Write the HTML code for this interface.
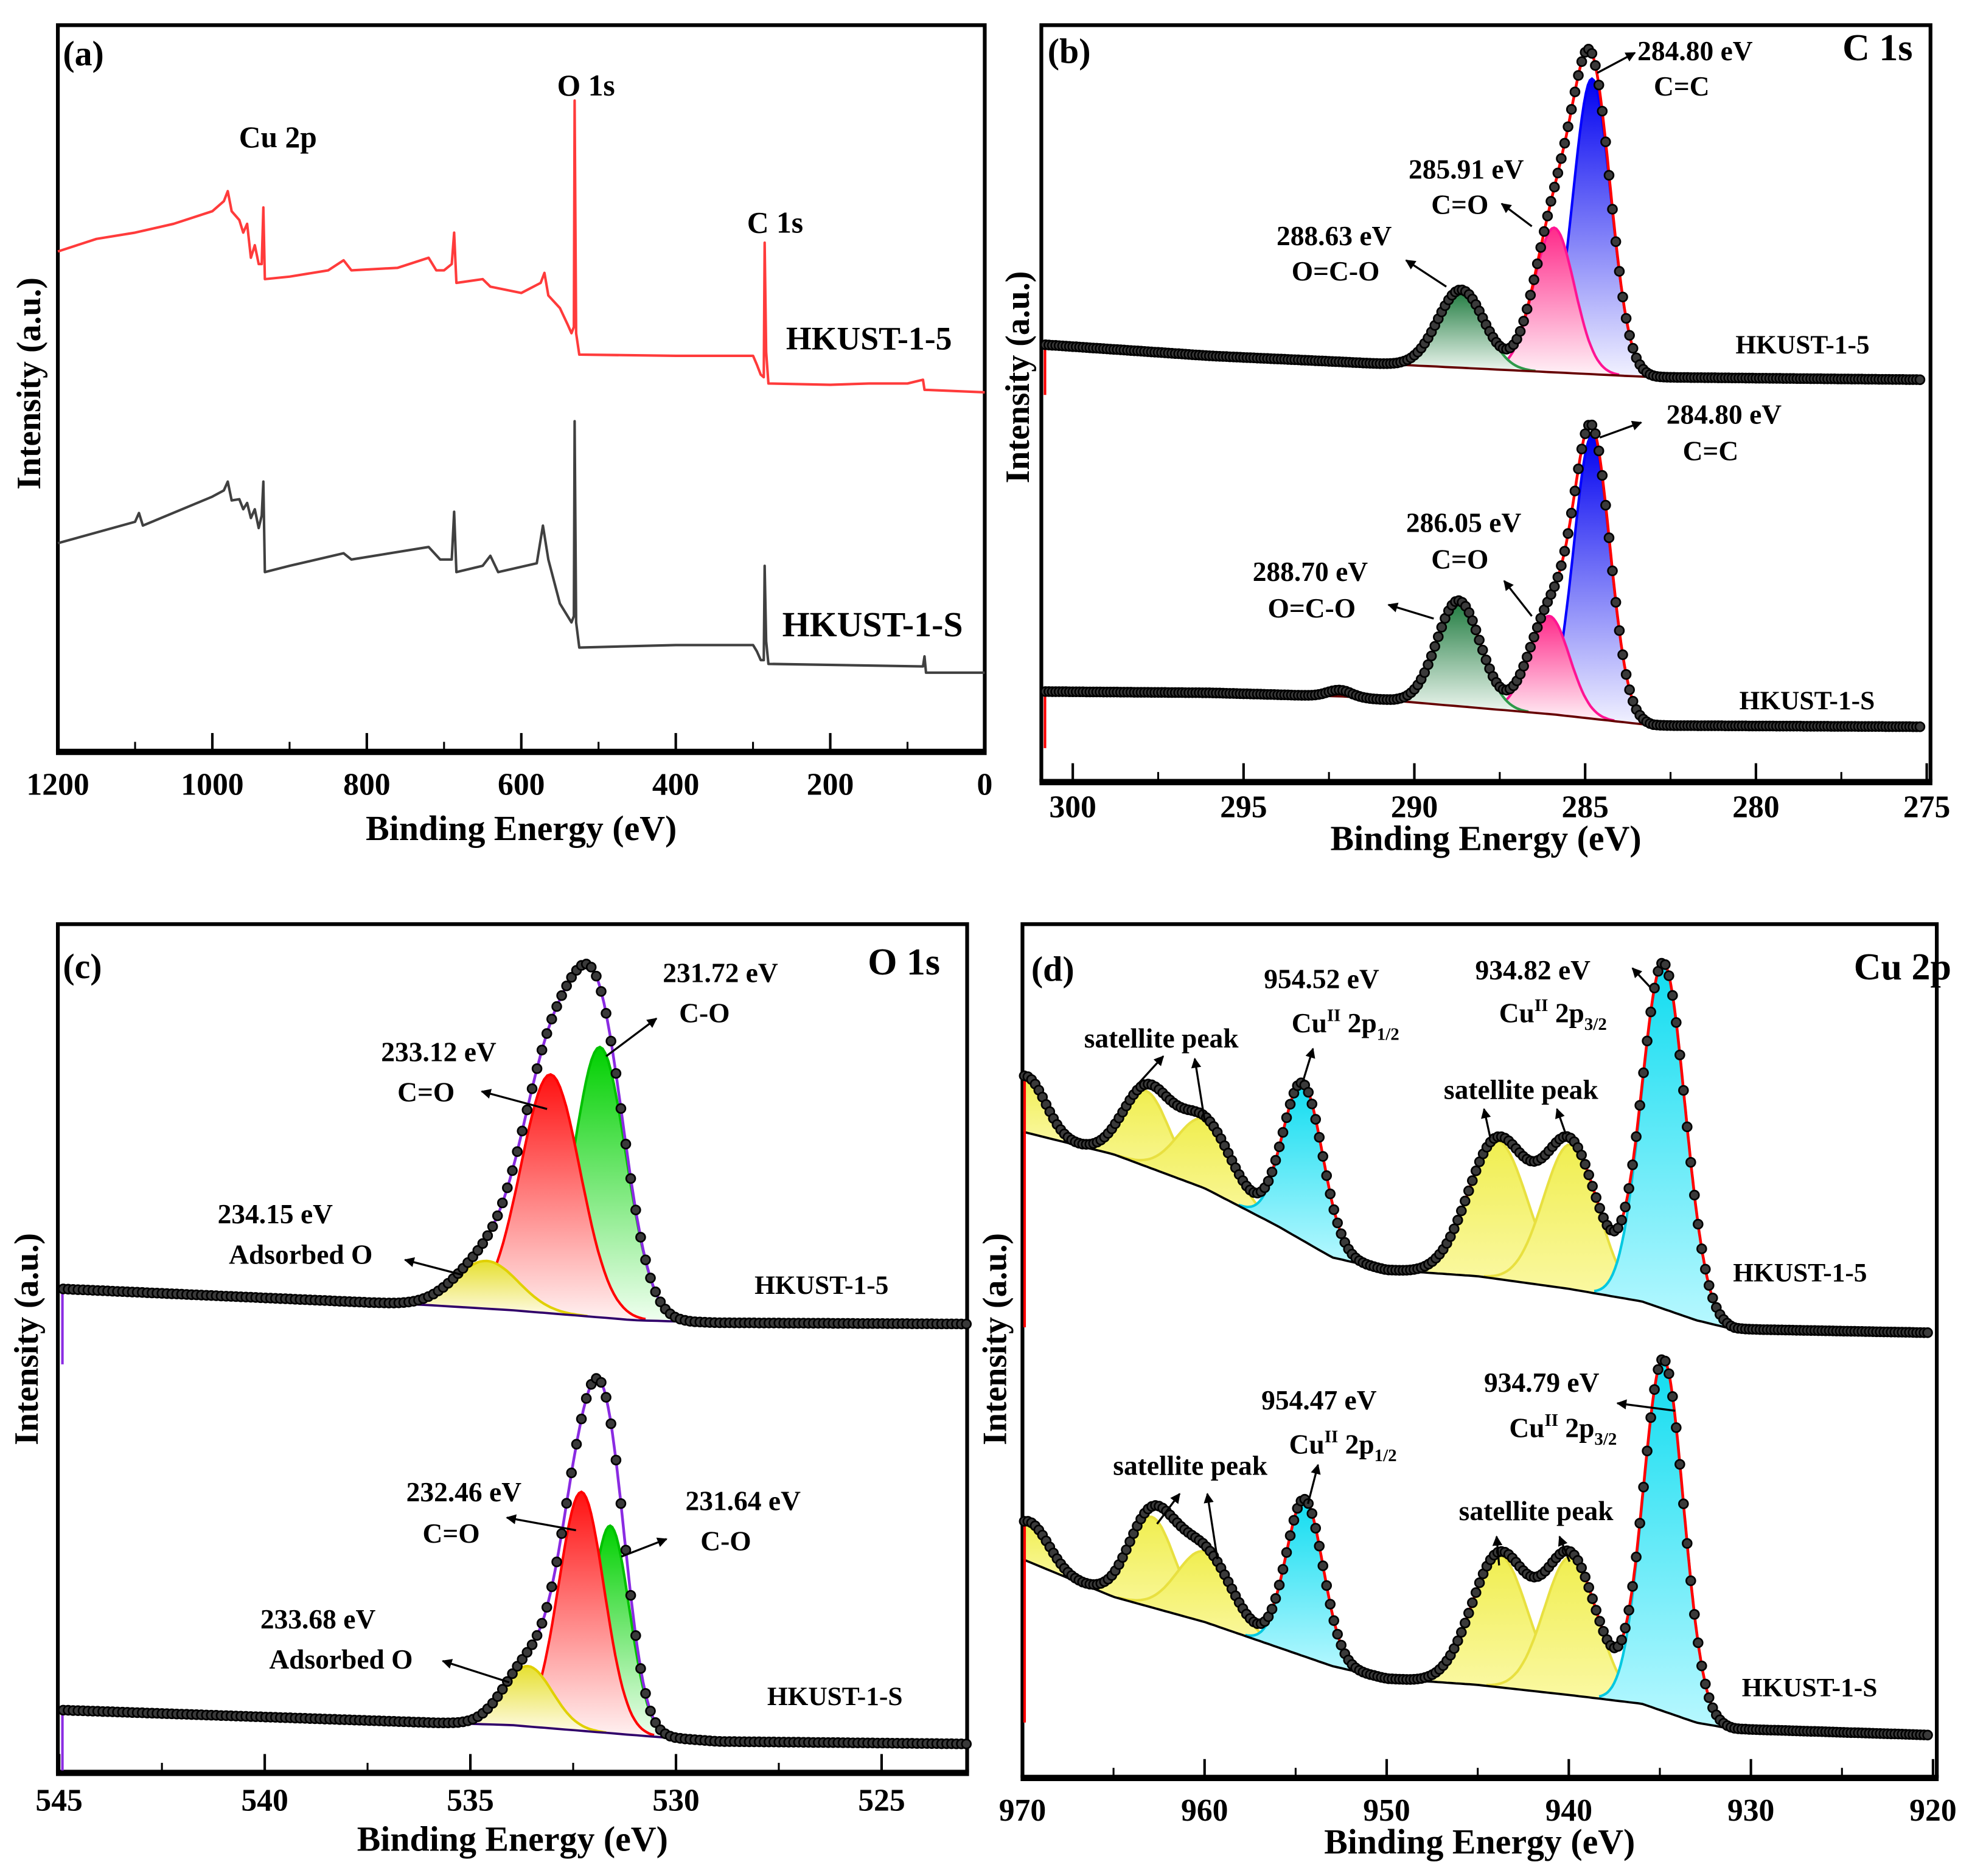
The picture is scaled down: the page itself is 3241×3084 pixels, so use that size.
<!DOCTYPE html>
<html><head><meta charset="utf-8"><style>
html,body{margin:0;padding:0;background:#fff}
svg{display:block}
text{font-family:"Liberation Serif",serif;font-weight:bold;fill:#000}
</style></head><body>
<svg id="fig" xmlns="http://www.w3.org/2000/svg" width="3241" height="3084" viewBox="0 0 1568 1492" preserveAspectRatio="none">
<defs>
<marker id="ah" viewBox="0 0 10 10" refX="9" refY="5" markerWidth="5" markerHeight="5" orient="auto"><path d="M0,0L10,5L0,10z" fill="#000"/></marker>
<linearGradient id="gYel" x1="0" y1="0" x2="0" y2="1"><stop offset="0" stop-color="#e6e030"/><stop offset="1" stop-color="#fffbe8"/></linearGradient>
<linearGradient id="gYelD" x1="0" y1="0" x2="0" y2="1"><stop offset="0" stop-color="#f0ee50"/><stop offset="1" stop-color="#fbf9a8"/></linearGradient>
<linearGradient id="gRed" x1="0" y1="0" x2="0" y2="1"><stop offset="0" stop-color="#ff1010"/><stop offset="1" stop-color="#fff2f2"/></linearGradient>
<linearGradient id="gGrn" x1="0" y1="0" x2="0" y2="1"><stop offset="0" stop-color="#00d000"/><stop offset="1" stop-color="#f0fff0"/></linearGradient>
<linearGradient id="gDGrn" x1="0" y1="0" x2="0" y2="1"><stop offset="0" stop-color="#1e7a3e"/><stop offset="1" stop-color="#eef7f0"/></linearGradient>
<linearGradient id="gPink" x1="0" y1="0" x2="0" y2="1"><stop offset="0" stop-color="#ff2a8a"/><stop offset="1" stop-color="#fff2f7"/></linearGradient>
<linearGradient id="gBlue" x1="0" y1="0" x2="0" y2="1"><stop offset="0" stop-color="#0000f0"/><stop offset="1" stop-color="#f2f2ff"/></linearGradient>
<linearGradient id="gCyan" x1="0" y1="0" x2="0" y2="1"><stop offset="0" stop-color="#10dcf0"/><stop offset="1" stop-color="#b8f8ff"/></linearGradient>
</defs>
<g id="layer"></g>
</svg>
<script>
// ---------- DATA ----------
const surveyE5 = [1200,1150,1100,1050,1000,985,980,975,965,960,955,950,945,940,936,934,932,900,850,830,820,760,720,710,700,690,687,684,650,640,600,575,570,565,550,540,535,532,531,529,525,400,300,295,290,286,285,283,280,200,150,100,80,78,0];
const surveyI5 = [398,408,413,420,430,438,446,430,423,413,420,393,403,388,388,433,376,378,383,391,383,385,393,383,383,388,413,373,376,370,365,373,381,363,353,340,333,338,518,333,316,315,315,308,300,298,405,318,293,292,293,293,296,288,286];
const surveyES = [1200,1100,1095,1090,1000,985,980,975,965,960,955,950,945,940,936,934,932,900,830,820,720,705,690,687,684,650,640,630,580,572,565,550,535,532,531,529,525,400,300,295,290,286,285,283,280,80,78,76,0];
const surveyIS = [166,183,190,180,203,208,215,200,201,193,198,186,193,178,188,215,143,148,158,153,163,153,153,191,143,148,156,143,150,180,153,118,103,108,263,103,83,85,85,80,73,73,148,88,70,68,76,63,63];
const c1sBgE = [300.9,296,292,286,283,275];
const c1sBg5 = [348,339,334,326,322,320];
const c1sBgS = [72,71,68,54,45,44];
const c1sCenters5 = [284.80,285.91,288.63];
const c1sHeights5 = [235,115,62];
const c1sFwhm5 = [1.3,1.4,1.6];
const c1sCentersS = [284.80,286.05,288.70,292.2];
const c1sHeightsS = [225,78,84,5];
const c1sFwhmS = [1.25,1.4,1.5,0.8];
const o1sBgE = [545,536,534,531,529,522.8];
const o1sBg5 = [385,372,368,360,358,357];
const o1sBgS = [50,40,38,30,25,23];
const o1sCenters5 = [531.85,533.05,534.6];
const o1sHeights5 = [215,190,38];
const o1sFwhm5 = [1.5,1.7,1.8];
const o1sCentersS = [531.6,532.3,533.6];
const o1sHeightsS = [165,190,48];
const o1sFwhmS = [1.1,1.3,1.4];
const cuBgE = [970,965,960,956,953,950,945,940,936,933,931,920];
const cuBg5 = [514,496,469,439,414,404,399,389,379,364,357,354];
const cuBgS = [174,144,124,104,89,79,74,66,59,44,39,34];
const cuCenters5 = [969.8,963.2,960.0,954.6,943.9,939.9,934.8];
const cuHeights5 = [45,60,55,125,110,115,275];
const cuFwhm5 = [2.5,3.0,3.5,2.6,3.8,3.5,2.8];
const cuCentersS = [969.6,962.9,960.0,954.5,943.8,939.9,934.8];
const cuHeightsS = [32,72,56,125,105,110,280];
const cuFwhmS = [2.5,3.0,3.5,2.4,3.6,3.4,2.6];
const cuKinds = ['sat','sat','sat','main','sat','sat','main'];

// ---------- HELPERS ----------
const NS='http://www.w3.org/2000/svg';
const layer=document.getElementById('layer');
function mk(tag,parent){const e=document.createElementNS(NS,tag);(parent||layer).appendChild(e);return e;}
function interp(xs,ys,x){
  if(x>=xs[0])return ys[0];
  for(let i=1;i<xs.length;i++){if(x>=xs[i]){const t=(x-xs[i-1])/(xs[i]-xs[i-1]);return ys[i-1]+t*(ys[i]-ys[i-1]);}}
  return ys[ys.length-1];
}
function gauss(E,c,h,f){const s=f/2.3548;return h*Math.exp(-(E-c)*(E-c)/(2*s*s));}
function fmt(n){return n.toFixed(1);}

function frame(p){
  const g=mk('g');
  
  
  const r=mk('path',g);
  r.setAttribute('d',`M${p.x0},${p.y1}V${p.y0}H${p.x1}V${p.y1}`);
  r.setAttribute('fill','none');r.setAttribute('stroke','#000');r.setAttribute('stroke-width','3');
  
  
  const b=mk('line',g);
  b.setAttribute('x1',p.x0-1.5);b.setAttribute('x2',p.x1+1.5);b.setAttribute('y1',p.y1);b.setAttribute('y2',p.y1);
  b.setAttribute('stroke','#000');b.setAttribute('stroke-width','5');
  
  
  p.ticks.forEach((t,i)=>{
    const x=p.sx(t);
    const l=mk('line',g);
    l.setAttribute('x1',x);l.setAttribute('x2',x);l.setAttribute('y1',p.y1);l.setAttribute('y2',p.y1-15);
    l.setAttribute('stroke','#000');l.setAttribute('stroke-width','2');
    
    
    const tx=mk('text',g);
    tx.setAttribute('x',x);tx.setAttribute('y',p.y1+p.tickDy);tx.setAttribute('text-anchor','middle');tx.setAttribute('font-size','25');
    tx.textContent=p.tickLabels[i];
    
    
  });
  p.minor.forEach(t=>{
    const x=p.sx(t);
    const l=mk('line',g);
    l.setAttribute('x1',x);l.setAttribute('x2',x);l.setAttribute('y1',p.y1);l.setAttribute('y2',p.y1-8);
    l.setAttribute('stroke','#000');l.setAttribute('stroke-width','1.5');
    
    
  });
  const xt=mk('text',g);
  xt.setAttribute('x',(p.x0+p.x1)/2);xt.setAttribute('y',p.y1+p.titleDy);xt.setAttribute('text-anchor','middle');xt.setAttribute('font-size','28');
  xt.textContent='Binding Energy (eV)';
  
  
  const yt=mk('text',g);
  yt.setAttribute('transform',`translate(${p.yTitleX},${p.yTitleY}) rotate(-90)`);
  yt.setAttribute('text-anchor','middle');yt.setAttribute('font-size','27');
  yt.textContent='Intensity (a.u.)';
  
  
}

function label(txt,x,y,size,name){
  const t=mk('text');
  t.setAttribute('x',x);t.setAttribute('y',y);t.setAttribute('font-size',size);
  t.textContent=txt;
  
  
  return t;
}
function cuLabel(x,y,sub,name){
  const t=mk('text');
  t.setAttribute('x',x);t.setAttribute('y',y);t.setAttribute('font-size','22');
  t.innerHTML=`Cu<tspan dy="-9" font-size="14">II</tspan><tspan dy="9"> 2p</tspan><tspan dy="6" font-size="14">${sub}</tspan>`;
  
  
}
function arrow(x1,y1,x2,y2,name){
  const l=mk('line');
  l.setAttribute('x1',x1);l.setAttribute('y1',y1);l.setAttribute('x2',x2);l.setAttribute('y2',y2);
  l.setAttribute('stroke','#000');l.setAttribute('stroke-width','1.6');l.setAttribute('marker-end','url(#ah)');
  
  
}

function fitPanel(o){
  const bgAt=E=>interp(o.bgE,o.bg,E);
  const g=mk('g');
  
  
  o.centers.forEach((c,i)=>{
    const s=o.fwhm[i]/2.3548;
    const lo=Math.max(o.Emin,c-3.2*s),hi=Math.min(o.Emax,c+3.2*s);
    let d='',back='';
    const n=60;
    for(let k=0;k<=n;k++){const E=hi-(hi-lo)*k/n;d+=(k?'L':'M')+fmt(o.sx(E))+','+fmt(o.sy(bgAt(E)+gauss(E,c,o.heights[i],o.fwhm[i])));}
    for(let k=n;k>=0;k--){const E=hi-(hi-lo)*k/n;back+='L'+fmt(o.sx(E))+','+fmt(o.sy(bgAt(E)));}
    const f=mk('path',g);
    f.setAttribute('d',d+back+'Z');f.setAttribute('fill',o.fills[i]);f.setAttribute('stroke','none');
    
    
    const l=mk('path',g);
    l.setAttribute('d',d);l.setAttribute('fill','none');l.setAttribute('stroke',o.strokes[i]);l.setAttribute('stroke-width','2');
    
    
  });
  let bd='';
  for(let E=o.Emax,k=0;E>=o.Emin;E-=0.25,k++){bd+=(k?'L':'M')+fmt(o.sx(E))+','+fmt(o.sy(bgAt(E)));}
  const bl=mk('path',g);
  bl.setAttribute('d',bd);bl.setAttribute('fill','none');bl.setAttribute('stroke',o.bgColor);bl.setAttribute('stroke-width','1.8');
  
  
  const env=E=>{let v=bgAt(E);o.centers.forEach((c,i)=>v+=gauss(E,c,o.heights[i],o.fwhm[i]));return v;};
  let ed='';
  for(let E=o.Emax,k=0;E>=o.Emin;E-=0.05,k++){ed+=(k?'L':'M')+fmt(o.sx(E))+','+fmt(o.sy(env(E)));}
  const el=mk('path',g);
  el.setAttribute('d',ed);el.setAttribute('fill','none');el.setAttribute('stroke',o.envColor);el.setAttribute('stroke-width','2.2');
  
  
  const dl=mk('line',g);
  dl.setAttribute('x1',o.sx(o.Emax)+1);dl.setAttribute('x2',o.sx(o.Emax)+1);dl.setAttribute('y1',o.sy(env(o.Emax)));dl.setAttribute('y2',o.sy(env(o.Emax))+o.drop);
  dl.setAttribute('stroke',o.envColor);dl.setAttribute('stroke-width','2');
  
  
  const pg=mk('g',g);
  
  
  for(let E=o.Emax-0.05;E>=o.Emin;E-=o.step){
    const c=mk('circle',pg);
    c.setAttribute('cx',fmt(o.sx(E)));c.setAttribute('cy',fmt(o.sy(env(E))));c.setAttribute('r','3.6');
    c.setAttribute('fill','#3a3a3a');c.setAttribute('stroke','#000');c.setAttribute('stroke-width','1.3');
  }
}

// ---------- PANEL (a) ----------
const A={name:'panel-a',x0:46,x1:783,y0:20,y1:598,tickDy:34,titleDy:70,yTitleX:32,yTitleY:305};
A.sx=E=>46+(1200-E)*(737/1200);
A.sy=v=>598-v;
A.ticks=[1200,1000,800,600,400,200,0];A.tickLabels=['1200','1000','800','600','400','200','0'];
A.minor=[1100,900,700,500,300,100];
frame(A);
function survey(Es,Is,color,name){
  let d='';
  Es.forEach((E,i)=>{d+=(i?'L':'M')+fmt(A.sx(E))+','+fmt(A.sy(Is[i]));});
  const p=mk('path');
  p.setAttribute('d',d);p.setAttribute('fill','none');p.setAttribute('stroke',color);p.setAttribute('stroke-width','2');p.setAttribute('stroke-linejoin','round');
  
  
}
survey(surveyE5,surveyI5,'#ff3b3b','survey-hkust-1-5');
survey(surveyES,surveyIS,'#404040','survey-hkust-1-s');
label('(a)',50,52,28,'panel-a-label');
label('Cu 2p',190,117,24,'cu2p-label');
label('O 1s',443,76,24,'o1s-label');
label('C 1s',594,185,24,'c1s-label');
label('HKUST-1-5',625,278,26,'legend-hkust-1-5');
label('HKUST-1-S',622,506,28,'legend-hkust-1-s');

// ---------- PANEL (b) ----------
const B={name:'panel-b',x0:828,x1:1535,y0:20,y1:622,tickDy:28,titleDy:54,yTitleX:818,yTitleY:300};
B.sx=E=>853+(300-E)*27.16;
B.sy=v=>622-v;
B.ticks=[300,295,290,285,280,275];B.tickLabels=['300','295','290','285','280','275'];
B.minor=[297.5,292.5,287.5,282.5,277.5];
frame(B);
fitPanel({name:'c1s-hkust-1-5',sx:B.sx,sy:B.sy,Emin:275.1,Emax:300.85,step:0.1,bgE:c1sBgE,bg:c1sBg5,centers:c1sCenters5,heights:c1sHeights5,fwhm:c1sFwhm5,
  fills:['url(#gBlue)','url(#gPink)','url(#gDGrn)'],strokes:['#0000ff','#ff1493','#2e9a4a'],envColor:'#ff0000',bgColor:'#600',drop:40});
fitPanel({name:'c1s-hkust-1-s',sx:B.sx,sy:B.sy,Emin:275.1,Emax:300.85,step:0.1,bgE:c1sBgE,bg:c1sBgS,centers:c1sCentersS,heights:c1sHeightsS,fwhm:c1sFwhmS,
  fills:['url(#gBlue)','url(#gPink)','url(#gDGrn)','none'],strokes:['#0000ff','#ff1493','#2e9a4a','none'],envColor:'#ff0000',bgColor:'#600',drop:45});
label('(b)',833,50,28,'panel-b-label');
label('C 1s',1465,48,30,'panel-b-title');
label('284.80 eV',1302,48,22,'c1s-5-cc-energy');label('C=C',1315,76,22,'c1s-5-cc-label');
label('285.91 eV',1120,142,22,'c1s-5-co-energy');label('C=O',1138,170,22,'c1s-5-co-label');
label('288.63 eV',1015,195,22,'c1s-5-oco-energy');label('O=C-O',1027,223,22,'c1s-5-oco-label');
label('HKUST-1-5',1380,281,21,'c1s-legend-hkust-1-5');
label('284.80 eV',1325,337,22,'c1s-s-cc-energy');label('C=C',1338,366,22,'c1s-s-cc-label');
label('286.05 eV',1118,423,22,'c1s-s-co-energy');label('C=O',1138,452,22,'c1s-s-co-label');
label('288.70 eV',996,462,22,'c1s-s-oco-energy');label('O=C-O',1008,491,22,'c1s-s-oco-label');
label('HKUST-1-S',1383,564,21,'c1s-legend-hkust-1-s');
arrow(1270,58,1300,42,'arrow');arrow(1218,180,1194,162,'arrow');arrow(1150,228,1118,207,'arrow');
arrow(1272,348,1305,336,'arrow');arrow(1218,490,1196,462,'arrow');arrow(1140,492,1104,481,'arrow');

// ---------- PANEL (c) ----------
const C={name:'panel-c',x0:46,x1:769,y0:735,y1:1410,tickDy:30,titleDy:62,yTitleX:30,yTitleY:1065};
C.sx=E=>47+(545-E)*32.7;
C.sy=v=>1410-v;
C.ticks=[545,540,535,530,525];C.tickLabels=['545','540','535','530','525'];
C.minor=[542.5,537.5,532.5,527.5];
frame(C);
fitPanel({name:'o1s-hkust-1-5',sx:C.sx,sy:C.sy,Emin:522.9,Emax:544.95,step:0.12,bgE:o1sBgE,bg:o1sBg5,centers:o1sCenters5,heights:o1sHeights5,fwhm:o1sFwhm5,
  fills:['url(#gGrn)','url(#gRed)','url(#gYel)'],strokes:['#00c000','#ff0000','#e0d000'],envColor:'#8a2be2',bgColor:'#30006a',drop:60});
fitPanel({name:'o1s-hkust-1-s',sx:C.sx,sy:C.sy,Emin:522.9,Emax:544.95,step:0.12,bgE:o1sBgE,bg:o1sBgS,centers:o1sCentersS,heights:o1sHeightsS,fwhm:o1sFwhmS,
  fills:['url(#gGrn)','url(#gRed)','url(#gYel)'],strokes:['#00c000','#ff0000','#e0d000'],envColor:'#8a2be2',bgColor:'#30006a',drop:48});
label('(c)',50,778,28,'panel-c-label');
label('O 1s',690,775,30,'panel-c-title');
label('231.72 eV',527,781,22,'o1s-5-co-energy');label('C-O',540,813,22,'o1s-5-co-label');
label('233.12 eV',303,844,22,'o1s-5-c=o-energy');label('C=O',316,876,22,'o1s-5-c=o-label');
label('234.15 eV',173,973,22,'o1s-5-ads-energy');label('Adsorbed O',182,1005,22,'o1s-5-ads-label');
label('HKUST-1-5',600,1029,21,'o1s-legend-hkust-1-5');
label('232.46 eV',323,1194,22,'o1s-s-c=o-energy');label('C=O',336,1227,22,'o1s-s-c=o-label');
label('231.64 eV',545,1201,22,'o1s-s-co-energy');label('C-O',557,1233,22,'o1s-s-co-label');
label('233.68 eV',207,1295,22,'o1s-s-ads-energy');label('Adsorbed O',214,1327,22,'o1s-s-ads-label');
label('HKUST-1-S',610,1356,21,'o1s-legend-hkust-1-s');
arrow(482,840,522,810,'arrow');arrow(435,882,383,868,'arrow');arrow(368,1014,322,1002,'arrow');
arrow(494,1238,530,1224,'arrow');arrow(458,1217,403,1207,'arrow');arrow(405,1338,352,1321,'arrow');

// ---------- PANEL (d) ----------
const D={name:'panel-d',x0:813,x1:1540,y0:735,y1:1414,tickDy:34,titleDy:60,yTitleX:800,yTitleY:1065};
D.sx=E=>813+(970-E)*14.48;
D.sy=v=>1414-v;
D.ticks=[970,960,950,940,930,920];D.tickLabels=['970','960','950','940','930','920'];
D.minor=[965,955,945,935,925];
frame(D);
const cuFill=cuKinds.map(k=>k==='main'?'url(#gCyan)':'url(#gYelD)');
const cuStroke=cuKinds.map(k=>k==='main'?'#00c8e0':'#e8e040');
fitPanel({name:'cu2p-hkust-1-5',sx:D.sx,sy:D.sy,Emin:920.1,Emax:969.95,step:0.2,bgE:cuBgE,bg:cuBg5,centers:cuCenters5,heights:cuHeights5,fwhm:cuFwhm5,
  fills:cuFill,strokes:cuStroke,envColor:'#ff0000',bgColor:'#000',drop:200});
fitPanel({name:'cu2p-hkust-1-s',sx:D.sx,sy:D.sy,Emin:920.1,Emax:969.95,step:0.2,bgE:cuBgE,bg:cuBgS,centers:cuCentersS,heights:cuHeightsS,fwhm:cuFwhmS,
  fills:cuFill,strokes:cuStroke,envColor:'#ff0000',bgColor:'#000',drop:160});
label('(d)',820,780,28,'panel-d-label');
label('Cu 2p',1474,779,30,'panel-d-title');
label('954.52 eV',1005,786,22,'cu-5-2p12-energy');cuLabel(1027,821,'1/2','cu-5-2p12-label');
label('934.82 eV',1173,779,22,'cu-5-2p32-energy');cuLabel(1192,813,'3/2','cu-5-2p32-label');
label('satellite peak',862,833,22,'cu-5-sat-label-1');
label('satellite peak',1148,874,22,'cu-5-sat-label-2');
label('HKUST-1-5',1378,1019,21,'cu-legend-hkust-1-5');
label('954.47 eV',1003,1121,22,'cu-s-2p12-energy');cuLabel(1025,1156,'1/2','cu-s-2p12-label');
label('934.79 eV',1180,1107,22,'cu-s-2p32-energy');cuLabel(1200,1143,'3/2','cu-s-2p32-label');
label('satellite peak',885,1173,22,'cu-s-sat-label-1');
label('satellite peak',1160,1209,22,'cu-s-sat-label-2');
label('HKUST-1-S',1385,1349,21,'cu-legend-hkust-1-s');
arrow(1036,860,1044,834,'arrow');arrow(1312,785,1298,770,'arrow');
arrow(905,862,925,840,'arrow');arrow(958,892,950,842,'arrow');
arrow(1185,905,1180,882,'arrow');arrow(1245,902,1238,882,'arrow');
arrow(1040,1196,1048,1165,'arrow');arrow(1332,1122,1286,1116,'arrow');
arrow(920,1212,938,1188,'arrow');arrow(968,1240,960,1188,'arrow');
arrow(1192,1245,1190,1222,'arrow');arrow(1248,1242,1240,1222,'arrow');
</script>
</body></html>
